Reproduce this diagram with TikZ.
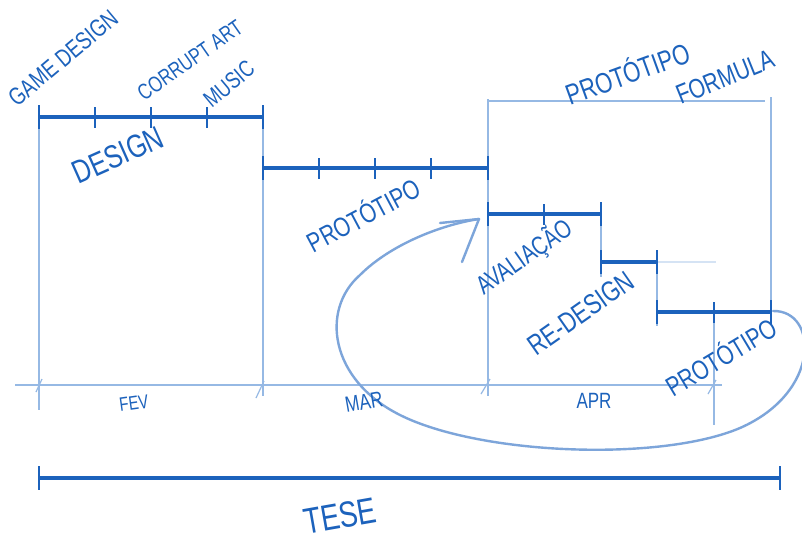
\documentclass[tikz,border=0pt]{standalone}
\usepackage{fontspec}
\setmainfont{Liberation Sans}
\definecolor{ink}{RGB}{28,98,188}
\definecolor{faint}{RGB}{150,185,228}
\definecolor{loopc}{RGB}{125,165,218}
\tikzset{
 bar/.style={draw=ink, line width=3.2pt},
 tickmark/.style={draw=ink, line width=2.8pt},
 guide/.style={draw=faint, line width=1.2pt},
 hand/.style={text=ink, inner sep=0pt, font=\fontsize{#1}{#1}\selectfont},
 tall/.style={yscale=1.3},
 loopline/.style={draw=loopc, line width=2.4pt, line cap=round, line join=round},
}
\begin{document}
\begin{tikzpicture}[x=1pt,y=-1pt]
\useasboundingbox[fill=white] (0,0) rectangle (802,544);
% coordinates
\coordinate (d0) at (39,117); \coordinate (d1) at (95,117); \coordinate (d2) at (151,117);
\coordinate (d3) at (207,117); \coordinate (d4) at (263,117);
\coordinate (p0) at (263,168); \coordinate (p1) at (319,168); \coordinate (p2) at (375,168);
\coordinate (p3) at (431,168); \coordinate (p4) at (488,168);
\coordinate (a0) at (488,214); \coordinate (a1) at (544,214); \coordinate (a2) at (601,214);
\coordinate (r0) at (601,262); \coordinate (r1) at (657,262);
\coordinate (q0) at (657,312); \coordinate (q1) at (714,312); \coordinate (q2) at (771,312);
\coordinate (t0) at (39,478); \coordinate (t1) at (780,478);
\coordinate (b0) at (488,99); \coordinate (b1) at (765,101); \coordinate (b2) at (771,97);
\coordinate (ax0) at (15,385); \coordinate (ax1) at (722,385);
% guides
\draw[guide] (d0) -- (39,410);
\draw[guide] (d4) -- (263,396);
\draw[guide] (b0) -- (488,396);
\draw[guide] (488,101) -- (b1);
\draw[guide] (b2) -- (q2);
\draw[guide] (a2) -- (601,277);
\draw[guide] (r1) -- (657,326);
\draw[guide] (q1) -- (714,425);
\draw[guide, draw opacity=0.4] (r1) -- (716,262);
\draw[guide] (ax0) -- (ax1);
\draw[guide] (36,392) -- (42,379);
\draw[guide] (256,398) -- (264,381);
\draw[guide] (481,394) -- (490,379);
\draw[guide] (708,394) -- (716,380);
% bars
\draw[bar] (d0) -- (d4);
\foreach \c in {d0,d4,p0,p4,a0,a2,r0,r1,q0,q2,t0,t1} \draw[tickmark] (\c) ++(0,-12) -- ++(0,24);
\foreach \c in {d1,d2,d3,p1,p2,p3,a1,q1} \draw[tickmark] (\c) ++(0,-10) -- ++(0,21);
\draw[bar] (p0) -- (p4);
\draw[bar] (a0) -- (a2);
\draw[bar] (r0) -- (r1);
\draw[bar] (q0) -- (q2);
\draw[bar] (t0) -- (t1);
% loop arrow
\coordinate (avtip) at (479,219);
\draw[loopline] (773,311) .. controls (818,310) and (822,392) .. (740,428)
  .. controls (660,462) and (480,455) .. (400,415)
  .. controls (330,380) and (320,310) .. (360,275)
  .. controls (390,245) and (440,225) .. (avtip);
\draw[loopline] (440,223) -- (avtip) -- (462,262);
% texts
\node[hand=19, rotate=40, tall] (gd) at (63,58) {GAME DESIGN};
\node[hand=17, rotate=35, tall] (ca) at (190,60) {CORRUPT ART};
\node[hand=18, rotate=40, tall] (mu) at (229,84) {MUSIC};
\node[hand=25, rotate=24, tall] (de) at (118,155) {DESIGN};
\node[hand=21, rotate=28, tall] (pr) at (363,214) {PROTÓTIPO};
\node[hand=22, rotate=20, tall] (pt) at (627,72) {PROTÓTIPO};
\node[hand=21, rotate=22, tall] (fo) at (725,77) {FORMULA};
\node[hand=20, rotate=35, tall] (av) at (524,257) {AVALIAÇÃO};
\node[hand=22, rotate=35, tall] (rd) at (581,313) {RE-DESIGN};
\node[hand=21, rotate=31, tall] (pb) at (720,356) {PROTÓTIPO};
\node[hand=15, rotate=8, tall] (fev) at (134,403) {FEV};
\node[hand=17, rotate=10, tall] (mar) at (364,402) {MAR};
\node[hand=17, tall] (apr) at (594,401) {APR};
\node[hand=28, rotate=10, tall] (tese) at (340,516) {TESE};
\end{tikzpicture}
\end{document}
